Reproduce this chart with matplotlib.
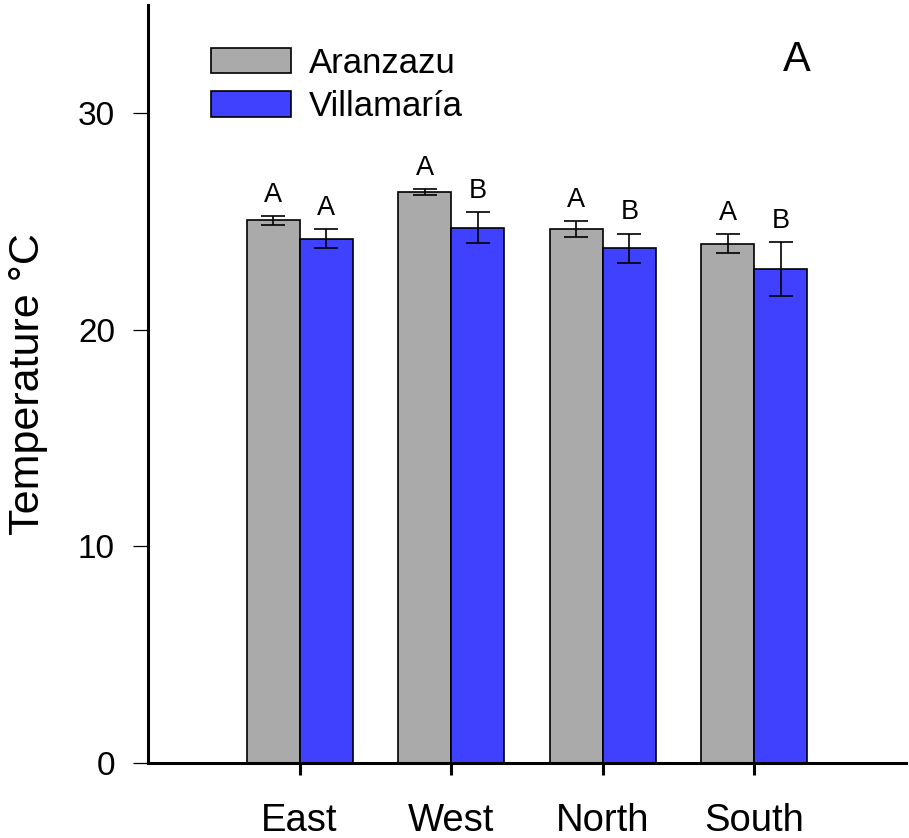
import matplotlib
matplotlib.use("Agg")
import matplotlib.pyplot as plt
import numpy as np

plt.rcParams['font.family'] = ['Liberation Sans', 'DejaVu Sans']

categories = ["East", "West", "North", "South"]
series_names = ["Aranzazu", "Villamaría"]
aranzazu = [25.06, 26.35, 24.66, 23.98]
aranzazu_err = [0.20, 0.14, 0.37, 0.44]
villamaria = [24.21, 24.72, 23.77, 22.80]
villamaria_err = [0.45, 0.70, 0.67, 1.25]
aranzazu_letters = ["A", "A", "A", "A"]
villamaria_letters = ["A", "B", "B", "B"]
yticks = [0, 10, 20, 30]
panel_label = "A"

gray = "#aaaaaa"
blue = "#4040ff"

fig = plt.figure(figsize=(9.09, 8.38), dpi=100)
ax = fig.add_axes([148/909, 75/838, 758/909, 758/838])

x = np.arange(1, len(categories) + 1)
w = 0.35
ekw = dict(elinewidth=1.2, capthick=1.2, capsize=8.3, ecolor="black")
ax.bar(x - w/2, aranzazu, w, yerr=aranzazu_err, color=gray, edgecolor="black",
       linewidth=1.2, label=series_names[0], error_kw=ekw, zorder=2)
ax.bar(x + w/2, villamaria, w, yerr=villamaria_err, color=blue, edgecolor="black",
       linewidth=1.2, label=series_names[1], error_kw=ekw, zorder=2)

for xi, m, e, t in zip(x - w/2, aranzazu, aranzazu_err, aranzazu_letters):
    ax.annotate(t, (xi, m + e), xytext=(0, 6), textcoords="offset points",
                ha="center", va="bottom", fontsize=19.5)
for xi, m, e, t in zip(x + w/2, villamaria, villamaria_err, villamaria_letters):
    ax.annotate(t, (xi, m + e), xytext=(0, 6), textcoords="offset points",
                ha="center", va="bottom", fontsize=19.5)

ax.set_xlim(0, 5)
ax.set_ylim(0, 35)
ax.set_xticks(x)
ax.set_xticklabels(categories, fontsize=27.5)
ax.set_yticks(yticks)
ax.set_yticklabels([str(v) for v in yticks], fontsize=24)

for s in ["top", "right"]:
    ax.spines[s].set_visible(False)
for s in ["left", "bottom"]:
    ax.spines[s].set_linewidth(2.2)

ax.tick_params(axis="y", direction="out", length=10.8, width=0.9, pad=13)
ax.tick_params(axis="x", direction="out", length=8.6, width=2.2, pad=20)

ax.set_ylabel("Temperature °C", fontsize=31, va="center")
ax.yaxis.set_label_coords(-0.158, 0.5)

ax.text(0.856, 0.913, panel_label, transform=ax.transAxes, fontsize=30,
        ha="center", va="baseline")

leg = ax.legend(loc="upper left", bbox_to_anchor=(0.0826, 0.945), frameon=False,
                fontsize=25, handlelength=2.31, handleheight=0.74,
                handletextpad=0.53, labelspacing=0.3, borderaxespad=0,
                borderpad=0)
for h in leg.legend_handles:
    h.set_linewidth(1.2)

fig.savefig("out.png", dpi=100)
